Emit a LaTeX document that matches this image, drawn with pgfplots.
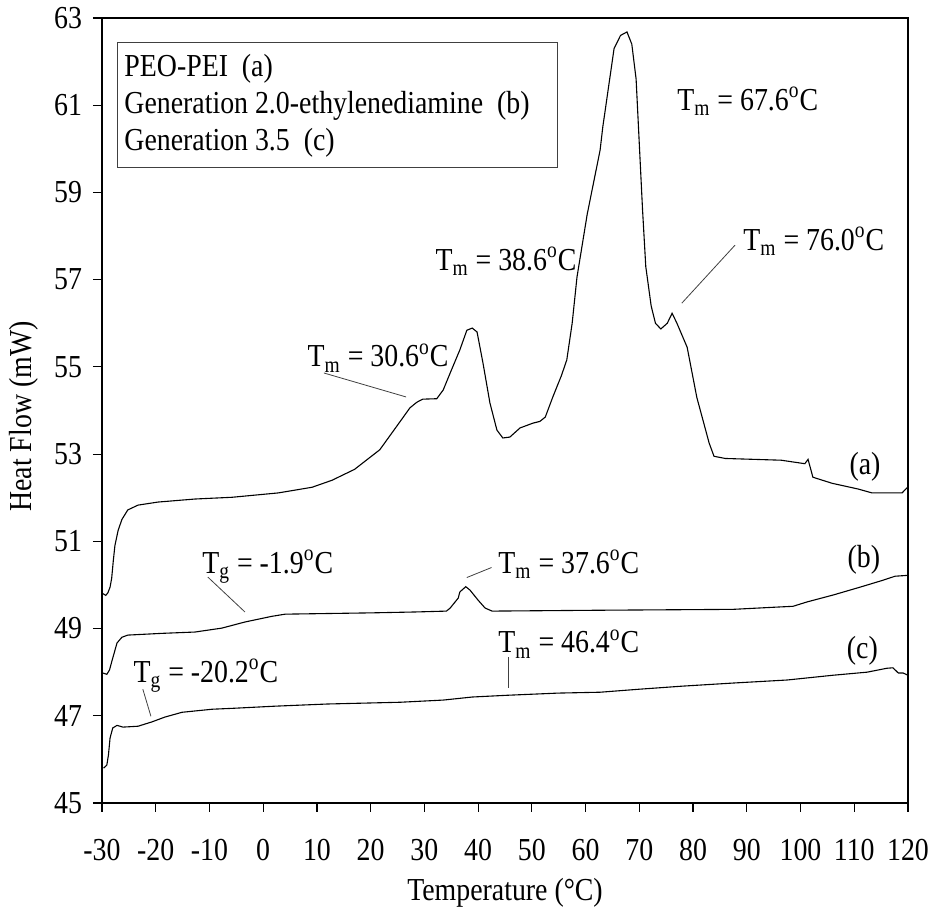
\documentclass[border=0pt]{standalone}
\usepackage{fontspec}
\setmainfont{Liberation Serif}[FakeStretch=0.87]
\usepackage{pgfplots}
\pgfplotsset{compat=1.18}

\newcommand{\Tm}[1]{T\textsubscript{m} = #1\textsuperscript{o}C}
\newcommand{\Tg}[1]{T\textsubscript{g} = #1\textsuperscript{o}C}

\begin{document}
\fontsize{16}{19}\selectfont
\begin{tikzpicture}
\begin{axis}[
    width=403pt, height=392.5pt, scale only axis,
    xmin=-30, xmax=120, ymin=45, ymax=63,
    xtick={-30,-20,...,120}, ytick={45,47,...,63},
    tick align=outside, xtick pos=bottom, ytick pos=left,
    major tick length=4.5pt,
    tick style={black, line width=0.6pt},
    axis line style={black, line width=0.6pt},
    /pgf/number format/assume math mode=true,
    xticklabel style={yshift=-8pt},
    xlabel={Temperature (°C)}, ylabel={Heat Flow (mW)},
    every axis x label/.style={at={(axis description cs:0.5,0)}, anchor=center, yshift=-45pt},
    every axis y label/.style={at={(axis description cs:0,0.5)}, anchor=center, xshift=-39pt, yshift=-3pt, rotate=90},
    clip=false,
]

% ---- (a) PEO-PEI -------------------------------------------------
\addplot[black, line width=0.55pt] coordinates {
  (-29.8,49.80) (-29.3,49.76) (-28.9,49.82) (-28.5,49.95) (-28.2,50.15)
  (-27.9,50.55) (-27.6,50.90) (-27.0,51.25) (-26.3,51.50) (-25.2,51.72)
  (-23.3,51.83) (-19.6,51.90) (-12.7,51.97) (-5.8,52.01) (2.8,52.11)
  (9.1,52.24) (12.8,52.40) (17.0,52.65) (21.7,53.10) (25.5,53.75)
  (27.3,54.06) (28.6,54.19) (29.7,54.26) (32.3,54.27) (33.5,54.47)
  (34.8,54.86) (36.6,55.39) (37.9,55.84) (38.9,55.89) (39.8,55.80)
  (40.9,55.09) (42.2,54.17) (43.5,53.55) (44.6,53.37) (45.9,53.39)
  (47.8,53.60) (50.2,53.71) (51.5,53.75) (52.5,53.85) (53.9,54.31)
  (55.5,54.80) (56.5,55.16) (57.5,56.00) (58.4,57.06) (60.3,58.50)
  (62.7,59.97) (63.2,60.50) (65.3,62.30) (66.5,62.60) (67.7,62.68)
  (68.6,62.40) (69.4,61.60) (70.0,60.10) (70.6,58.60) (71.2,57.30)
  (72.2,56.40) (73.0,56.00) (74.0,55.87) (75.2,56.00) (76.1,56.23)
  (77.0,56.00) (78.9,55.45) (80.7,54.30) (83.0,53.25) (83.9,52.95)
  (86.0,52.90) (96.4,52.86) (100.8,52.78) (101.4,52.88) (102.3,52.47)
  (105.9,52.33) (110.7,52.20) (113.3,52.11) (118.9,52.11) (120.0,52.25)
};

% ---- (b) generation 2.0 -----------------------------------------
\addplot[black, line width=0.55pt] coordinates {
  (-29.8,47.98) (-29.1,47.95) (-28.6,48.05) (-28.1,48.28) (-27.2,48.67)
  (-26.3,48.80) (-25.2,48.85) (-18.8,48.89) (-12.7,48.92) (-7.7,49.01)
  (-3.4,49.15) (1.6,49.28) (4.1,49.33) (20.3,49.36) (28.3,49.38)
  (34.1,49.40) (34.8,49.47) (36.3,49.70) (36.6,49.84) (37.7,49.96)
  (38.5,49.88) (40.0,49.65) (41.3,49.47) (42.6,49.40) (62.7,49.42)
  (87.4,49.44) (95.3,49.49) (98.6,49.51) (101.2,49.61) (106.1,49.77)
  (111.1,49.95) (115.4,50.11) (117.6,50.20) (120.0,50.22)
};

% ---- (c) generation 3.5 -----------------------------------------
\addplot[black, line width=0.55pt] coordinates {
  (-29.7,45.80) (-29.1,45.87) (-28.8,46.10) (-28.5,46.49) (-28.0,46.72)
  (-27.2,46.78) (-26.1,46.74) (-23.3,46.76) (-20.7,46.86) (-18.3,46.97)
  (-15.1,47.08) (-9.5,47.15) (-5.8,47.17) (2.2,47.22) (12.0,47.27)
  (25.5,47.31) (33.5,47.36) (38.9,47.43) (45.4,47.47) (54.9,47.52)
  (62.7,47.54) (70.1,47.61) (78.1,47.68) (87.4,47.75) (97.5,47.82)
  (106.1,47.93) (112.4,48.00) (116.1,48.09) (117.2,48.10) (118.2,47.98)
  (119.1,47.98) (120.0,47.93)
};

% ---- leader lines --------------------------------------------------
\draw[black!75, line width=0.4pt] (axis cs:11.3,54.86) -- (axis cs:26.6,54.31);
\draw[black!75, line width=0.4pt] (axis cs:87.8,57.79) -- (axis cs:77.9,56.46);
\draw[black!75, line width=0.4pt] (axis cs:37.9,50.17) -- (axis cs:42.5,50.40);
\draw[black!75, line width=0.4pt] (axis cs:45.6,48.34) -- (axis cs:45.6,47.63);
\draw[black!75, line width=0.4pt] (axis cs:-10.3,50.18) -- (axis cs:-3.4,49.38);
\draw[black!75, line width=0.4pt] (axis cs:-22.4,47.61) -- (axis cs:-20.9,46.99);

% ---- annotations ---------------------------------------------------
\node[anchor=base west, inner sep=0pt] at (axis cs:77.0,60.89) {\Tm{67.6}};
\node[anchor=base west, inner sep=0pt] at (axis cs:89.3,57.68) {\Tm{76.0}};
\node[anchor=base west, inner sep=0pt] at (axis cs:32.0,57.22) {\Tm{38.6}};
\node[anchor=base west, inner sep=0pt] at (axis cs:8.2,55.00) {\Tm{30.6}};
\node[anchor=base west, inner sep=0pt] at (axis cs:43.7,50.27) {\Tm{37.6}};
\node[anchor=base west, inner sep=0pt] at (axis cs:43.7,48.44) {\Tm{46.4}};
\node[anchor=base west, inner sep=0pt] at (axis cs:-11.4,50.27) {\Tg{-1.9}};
\node[anchor=base west, inner sep=0pt] at (axis cs:-24.2,47.77) {\Tg{-20.2}};
\node at (axis cs:112.0,52.70) {(a)};
\node at (axis cs:111.8,50.57) {(b)};
\node at (axis cs:111.5,48.50) {(c)};

% ---- legend box ----------------------------------------------------
\draw[black!75, line width=0.5pt] (axis cs:-27.2,62.43) rectangle (axis cs:54.7,59.58);
\node[anchor=base west, inner sep=0pt] at (axis cs:-25.9,61.65) {PEO-PEI\ \ (a)};
\node[anchor=base west, inner sep=0pt] at (axis cs:-25.9,60.81) {Generation 2.0-ethylenediamine\ \ (b)};
\node[anchor=base west, inner sep=0pt] at (axis cs:-25.9,59.97) {Generation 3.5\ \ (c)};

\coordinate (bl) at (rel axis cs:0,0);
\coordinate (tr) at (rel axis cs:1,1);
\end{axis}
\path (bl) ++(-51pt,-56pt) coordinate (p1);
\path (tr) ++(10pt,9pt) coordinate (p2);
\pgfresetboundingbox
\path[use as bounding box] (p1) rectangle (p2);
\end{tikzpicture}
\end{document}
